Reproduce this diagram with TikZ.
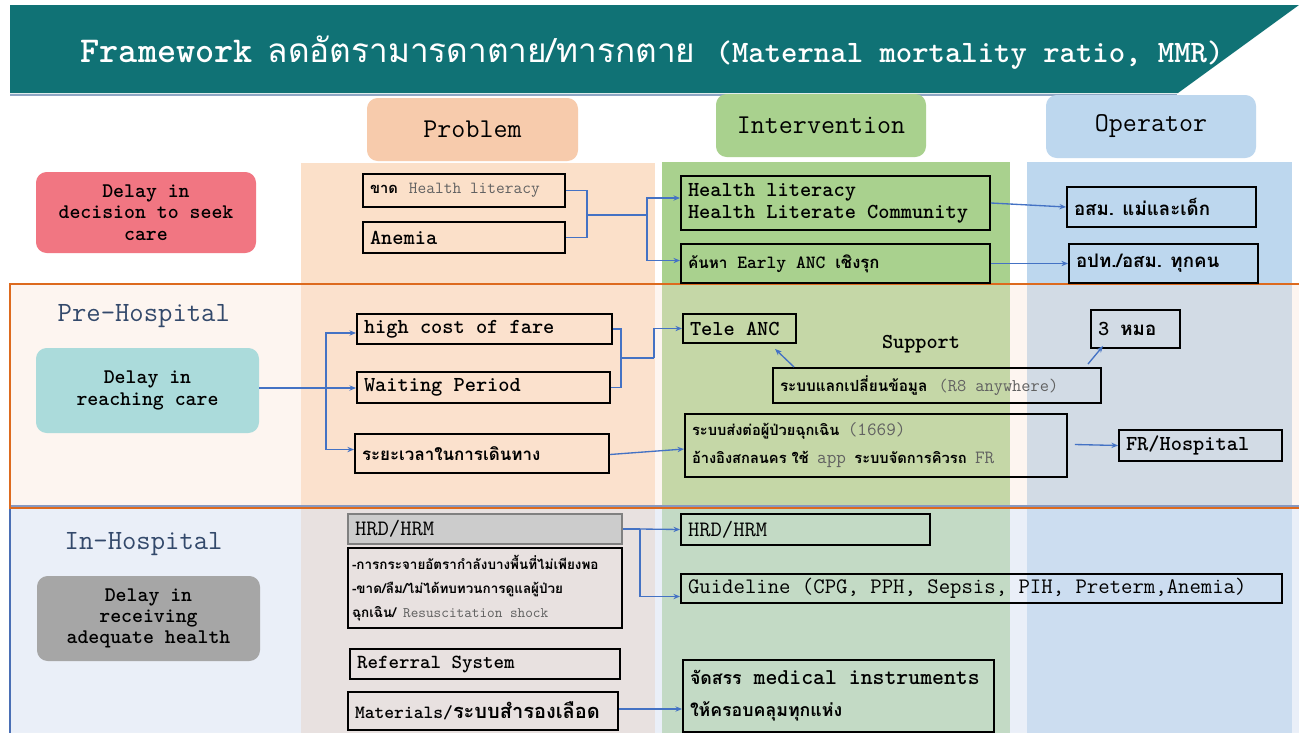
\documentclass[tikz,border=0pt]{standalone}
\usepackage{fontspec}
\renewcommand{\familydefault}{\ttdefault}
\newfontfamily\thai[Script=Thai]{Loma}
\usetikzlibrary{arrows.meta,calc}
\definecolor{bannerc}{HTML}{107275}
\definecolor{shadowc}{HTML}{8FA6C4}
\definecolor{probH}{HTML}{F7CBAC}
\definecolor{probC}{HTML}{FBE0C9}
\definecolor{intH}{HTML}{A9D18E}
\definecolor{intC}{HTML}{A9D18E}
\definecolor{opH}{HTML}{BDD7EE}
\definecolor{opC}{HTML}{BDD7EE}
\definecolor{decC}{HTML}{F17682}
\definecolor{reachC}{HTML}{ABDBDB}
\definecolor{recvC}{HTML}{A6A6A6}
\definecolor{connC}{HTML}{4472C4}
\definecolor{preB}{HTML}{DD6A1E}
\definecolor{preF}{HTML}{FBE5D6}
\definecolor{inF}{HTML}{DAE3F3}
\definecolor{inB}{HTML}{4A6FB5}
\definecolor{labC}{HTML}{33496B}
\definecolor{hrdF}{HTML}{CCCCCC}
\definecolor{hrdB}{HTML}{808080}
\newcommand\thx[2][13]{{\fontsize{#1}{16}\thai #2}}
\newcommand\grt[2][13]{{\fontsize{#1}{16}\selectfont\mdseries\color{black!62}#2}}
\tikzset{
  bx/.style n args={4}{draw=black, line width=1.4pt, rectangle, inner sep=0pt,
    minimum width={(#3-#1)*0.75pt}, minimum height={(#4-#2)*0.75pt},
    text width={(#3-#1-14)*0.75pt}, align=flush left,
    at={({(#1+#3)/2},{(#2+#4)/2})},
    font=\fontsize{16}{17}\selectfont\bfseries},
  rbx/.style n args={4}{rectangle, rounded corners=8pt, inner sep=0pt,
    minimum width={(#3-#1)*0.75pt}, minimum height={(#4-#2)*0.75pt},
    align=flush center, at={({(#1+#3)/2},{(#2+#4)/2})}},
  hdr/.style={font=\fontsize{20.4}{22}\selectfont},
  lft/.style={font=\fontsize{15.6}{16}\selectfont\bfseries},
  seclab/.style={anchor=west, text=labC, font=\fontsize{20.9}{22}\selectfont},
  ln/.style={draw=connC, line width=1pt},
  arr/.style={draw=connC, line width=1pt, -{Stealth[length=5pt,width=4pt]}},
}
\begin{document}
\begin{tikzpicture}[x=0.75pt,y=-0.75pt]
\useasboundingbox (0,0) rectangle (1299,732);
\clip (0,0) rectangle (1299,732);
\fill[white] (0,0) rectangle (1299,732);
% banner
\fill[bannerc] (10,5) -- (1299,5) -- (1178,93) -- (10,93) -- cycle;
\draw[shadowc, line width=1.5pt] (10,94.5) -- (1177,94.5);
\node[anchor=base west, text=white, font=\fontsize{27.3}{30}\selectfont\bfseries] (tf) at (76,62) {Framework};
\node[anchor=base west, text=white, font=\fontsize{25}{30}\thai] (tt) at (263,62) {ลดอัตรามารดาตาย/ทารกตาย};
\node[anchor=base west, text=white, font=\fontsize{23.4}{26}\selectfont\bfseries] (tm) at (711,62) {(Maternal mortality ratio, MMR)};
% headers
\node[rbx={367}{98}{578}{161}, fill=probH, hdr] (hprob) {Problem};
\node[rbx={716}{94}{926}{157}, fill=intH, hdr] (hint) {Intervention};
\node[rbx={1046}{95}{1256}{158}, fill=opH, hdr] (hop) {Operator};
% columns
\fill[probC] (301,163) rectangle (655,740);
\fill[intC] (662,162) rectangle (1010,740);
\fill[opC] (1027,162) rectangle (1292,740);
% bands
\filldraw[fill=inF, fill opacity=0.55, draw=inB, line width=1.5pt] (10,506) rectangle (1310,760);
\filldraw[fill=preF, fill opacity=0.35, draw=preB, line width=1.5pt] (10,284) rectangle (1310,508);
% left
\node[rbx={36}{172}{256}{253}, fill=decC, lft] (dec) {Delay in\\decision to seek\\care};
\node[seclab] (preh) at (53,316) {Pre-Hospital};
\node[rbx={36}{348}{259}{433}, fill=reachC, lft] (reach) {Delay in\\reaching care};
\node[seclab] (inh) at (60,544) {In-Hospital};
\node[rbx={37}{576}{260}{661}, fill=recvC, lft] (recv) {Delay in\\receiving\\adequate health};
% problem boxes
\node[bx={363}{174}{565}{207}] (p1) {\thx[11]{ขาด} \grt[12.7]{Health literacy}};
\node[bx={363}{222}{565}{253}] (p2) {Anemia};
\node[bx={357}{314}{612}{344}] (p3) {high cost of fare};
\node[bx={357}{372}{610}{403}] (p4) {Waiting Period};
\node[bx={355}{434}{609}{473}] (p5) {\thx[12.7]{ระยะเวลาในการเดินทาง}};
\node[bx={348}{514}{622}{544}, fill=hrdF, draw=hrdB, font=\fontsize{16.5}{17}\selectfont] (p6) {HRD/HRM};
\node[bx={348}{548}{622}{628}, text width={(622-348-8)*0.75pt}, font=\fontsize{10}{18}\selectfont\bfseries] (p7) {\thx[10.1]{-การกระจายอัตรากำลังบางพื้นที่ไม่เพียงพอ}\\\thx[10.1]{-ขาด/ลืม/ไม่ได้ทบทวนการดูแลผู้ป่วย}\\\thx[10.1]{ฉุกเฉิน/} \grt[10.9]{Resuscitation shock}};
\node[bx={350}{649}{620}{679}, font=\fontsize{15}{17}\selectfont\bfseries] (p8) {Referral System};
\node[bx={348}{692}{618}{730}, font=\fontsize{14}{17}\selectfont\bfseries] (p9) {Materials/\thx[15]{ระบบสำรองเลือด}};
% intervention boxes
\node[bx={681}{176}{990}{230}, font=\fontsize{16}{16.5}\selectfont\bfseries] (i1) {Health literacy\\Health Literate Community};
\node[bx={681}{244}{990}{283}, font=\fontsize{14}{17}\selectfont\bfseries] (i2) {\thx[11.5]{ค้นหา} Early ANC \thx[12.5]{เชิงรุก}};
\node[bx={683}{314}{796}{343}] (i3) {Tele ANC};
\node[font=\fontsize{15.9}{17}\selectfont\bfseries] (sup) at (921,344) {Support};
\node[bx={773}{368}{1101}{403}] (i4) {\thx[11.5]{ระบบแลกเปลี่ยนข้อมูล} \grt[13.4]{(R8 anywhere)}};
\node[bx={1091}{310}{1180}{348}] (o3) {3 \thx[14]{หมอ}};
\node[bx={685}{414}{1067}{477}, font=\fontsize{12}{21}\selectfont\bfseries] (i5) {\thx[11]{ระบบส่งต่อผู้ป่วยฉุกเฉิน} \grt[14]{(1669)}\\\thx[11]{อ้างอิงสกลนคร ใช้} \grt[14]{app} \thx[11]{ระบบจัดการคิวรถ} \grt[14]{FR}};
\node[bx={1119}{430}{1282}{461}] (o4) {FR/Hospital};
\node[bx={681}{514}{930}{545}, font=\fontsize{16.5}{17}\selectfont] (i6) {HRD/HRM};
\node[bx={681}{574}{1282}{603}, font=\fontsize{16.6}{17}\selectfont] (i7) {Guideline (CPG, PPH, Sepsis, PIH, Preterm,Anemia)};
\node[bx={683}{660}{994}{732}, font=\fontsize{17}{24}\selectfont\bfseries] (i8) {\thx[13.3]{จัดสรร} medical instruments\\\thx[13.3]{ให้ครอบคลุมทุกแห่ง}};
% operator boxes
\node[bx={1067}{187}{1256}{227}] (o1) {\thx[14]{อสม. แม่และเด็ก}};
\node[bx={1069}{244}{1258}{283}] (o2) {\thx[14]{อปท./อสม. ทุกคน}};
% connectors
\coordinate (j1) at (587,215);
\coordinate (k1) at (647,215);
\draw[ln] (p1.east) -| (j1);
\draw[ln] (p2.east) -| (j1);
\draw[ln] (j1) -- (k1);
\draw[arr] (k1) |- ($(i1.west)+(0,-5)$);
\draw[arr] (k1) |- ($(i2.west)+(0,-3)$);
\draw[arr] (i1.east) -- (o1.west);
\draw[arr] (i2.east) -- (o2.west);
\coordinate (j2) at (326,388);
\draw[ln] (reach.east |- j2) -- (j2);
\draw[arr] (j2) |- ($(p3.west)+(0,4)$);
\draw[arr] (j2) -- (p4.west |- j2);
\draw[arr] (j2) |- ($(p5.west)+(0,-4)$);
\coordinate (j3) at (621,358);
\coordinate (k3) at (654,358);
\draw[ln] (p3.east) -| (j3);
\draw[ln] (p4.east) -| (j3);
\draw[ln] (j3) -- (k3);
\draw[arr] (k3) |- (i3.west);
\draw[arr] ($(p5.east)+(0,1)$) -- ($(i5.west)+(0,3.5)$);
\draw[arr] ($(i4.north west)+(22,0)$) -- ($(i3.south west)+(93,5)$);
\draw[arr] ($(i4.north east)+(-14,-3)$) -- ($(o3.south west)+(13,-3)$);
\draw[arr] ($(i5.east)+(7,-1)$) -- (o4.west);
\coordinate (j4) at (640,529);
\draw[ln] (p6.east) -- (j4);
\draw[arr] (j4) -- (i6.west);
\draw[arr] (j4) |- ($(i7.west)+(0,8)$);
\draw[arr] ($(p9.east)+(0,-2)$) -- ($(i8.west)+(0,13)$);
\end{tikzpicture}
\end{document}
